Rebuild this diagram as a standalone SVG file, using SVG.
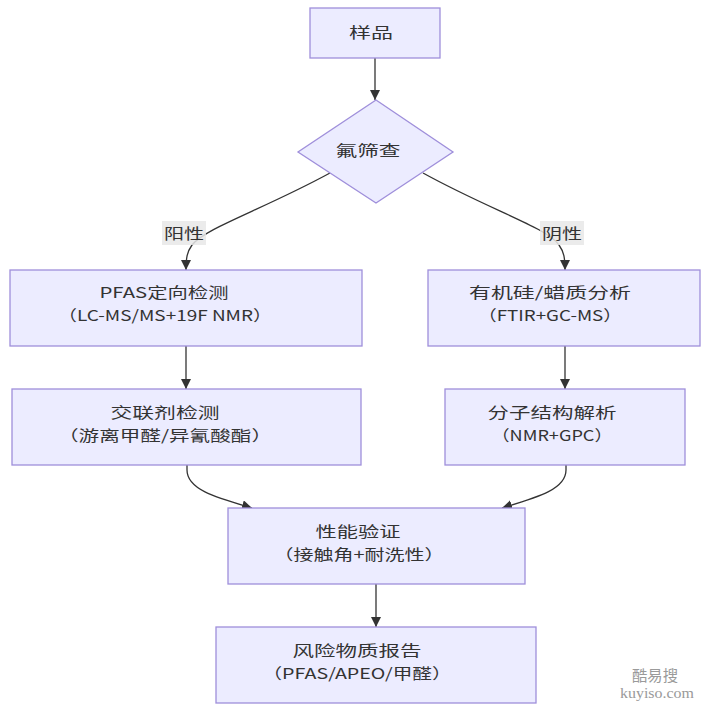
<svg xmlns="http://www.w3.org/2000/svg" width="710" height="710" viewBox="0 0 710 710">
<defs>
<style>
.node{fill:#ECECFF;stroke:#9f8fdb;stroke-width:1.3}
.t{font-family:"Noto Sans CJK SC","Noto Sans",sans-serif;font-size:15px;fill:#333;text-anchor:middle}
.edge{fill:none;stroke:#333;stroke-width:1.3}
.lbl{fill:rgba(232,232,232,0.85)}
.wm{fill:#9a9a9a;text-anchor:middle}
</style>
<marker id="ah" viewBox="0 0 10 10" refX="10" refY="5" markerWidth="10" markerHeight="10" markerUnits="userSpaceOnUse" orient="auto">
<path d="M0,0 L10,5 L0,10 z" fill="#333"/>
</marker>
</defs>
<rect width="710" height="710" fill="#fff"/>
<g id="edges">
<path class="edge" d="M375,58 L375,100" marker-end="url(#ah)"/>
<path class="edge" d="M330,173 C262,210 205,228 192,245 C187,252 186,258 186,270" marker-end="url(#ah)"/>
<path class="edge" d="M423,173 C490,210 548,228 559,245 C564,252 565,258 565,270" marker-end="url(#ah)"/>
<path class="edge" d="M186,346 L186,389" marker-end="url(#ah)"/>
<path class="edge" d="M565,346 L565,389" marker-end="url(#ah)"/>
<path class="edge" d="M187,465 L187,470 C187,490 218,498 252,508" marker-end="url(#ah)"/>
<path class="edge" d="M566,465 L566,470 C566,490 535,498 502,508" marker-end="url(#ah)"/>
<path class="edge" d="M376,584 L376,627" marker-end="url(#ah)"/>
<g id="label-yang">
<rect class="lbl" x="162" y="221" width="44" height="24"/>
<text class="t" x="184" y="239" textLength="40" lengthAdjust="spacingAndGlyphs">阳性</text>
</g>
<g id="label-yin">
<rect class="lbl" x="540" y="221" width="44" height="24"/>
<text class="t" x="562" y="239" textLength="40" lengthAdjust="spacingAndGlyphs">阴性</text>
</g>
</g>
<g id="sample">
<rect class="node" x="310" y="8" width="130" height="50"/>
<text class="t" x="371" y="38" textLength="44" lengthAdjust="spacingAndGlyphs">样品</text>
</g>
<g id="fluorine">
<polygon class="node" points="376,100 453,152 376,203 298,152"/>
<text class="t" x="368" y="156" textLength="65" lengthAdjust="spacingAndGlyphs">氟筛查</text>
</g>
<g id="pfas">
<rect class="node" x="10" y="270" width="352" height="76"/>
<text class="t" x="164" y="298" textLength="129" lengthAdjust="spacingAndGlyphs">PFAS定向检测</text>
<text class="t" x="165" y="321" textLength="214" lengthAdjust="spacingAndGlyphs">（LC-MS/MS+19F NMR）</text>
</g>
<g id="silicone">
<rect class="node" x="428" y="270" width="272" height="76"/>
<text class="t" x="550" y="298" textLength="162" lengthAdjust="spacingAndGlyphs">有机硅/蜡质分析</text>
<text class="t" x="550" y="321" textLength="144" lengthAdjust="spacingAndGlyphs">（FTIR+GC-MS）</text>
</g>
<g id="crosslinker">
<rect class="node" x="12" y="389" width="349" height="76"/>
<text class="t" x="165" y="418" textLength="109" lengthAdjust="spacingAndGlyphs">交联剂检测</text>
<text class="t" x="165" y="441" textLength="214" lengthAdjust="spacingAndGlyphs">（游离甲醛/异氰酸酯）</text>
</g>
<g id="structure">
<rect class="node" x="445" y="389" width="240" height="76"/>
<text class="t" x="552" y="418" textLength="129" lengthAdjust="spacingAndGlyphs">分子结构解析</text>
<text class="t" x="552" y="441" textLength="121" lengthAdjust="spacingAndGlyphs">（NMR+GPC）</text>
</g>
<g id="performance">
<rect class="node" x="228" y="508" width="297" height="76"/>
<text class="t" x="358" y="537" textLength="85" lengthAdjust="spacingAndGlyphs">性能验证</text>
<text class="t" x="359" y="560" textLength="171" lengthAdjust="spacingAndGlyphs">（接触角+耐洗性）</text>
</g>
<g id="report">
<rect class="node" x="216" y="627" width="320" height="76"/>
<text class="t" x="357" y="656" textLength="129" lengthAdjust="spacingAndGlyphs">风险物质报告</text>
<text class="t" x="357" y="679" textLength="189" lengthAdjust="spacingAndGlyphs">（PFAS/APEO/甲醛）</text>
</g>
<g id="watermark">
<text class="wm" x="655" y="681" font-family="'Noto Sans CJK SC',serif" font-size="15" textLength="46" lengthAdjust="spacingAndGlyphs">酷易搜</text>
<text class="wm" x="657" y="698" font-family="'Liberation Serif',serif" font-size="14" textLength="74" lengthAdjust="spacingAndGlyphs">kuyiso.com</text>
</g>
</svg>
